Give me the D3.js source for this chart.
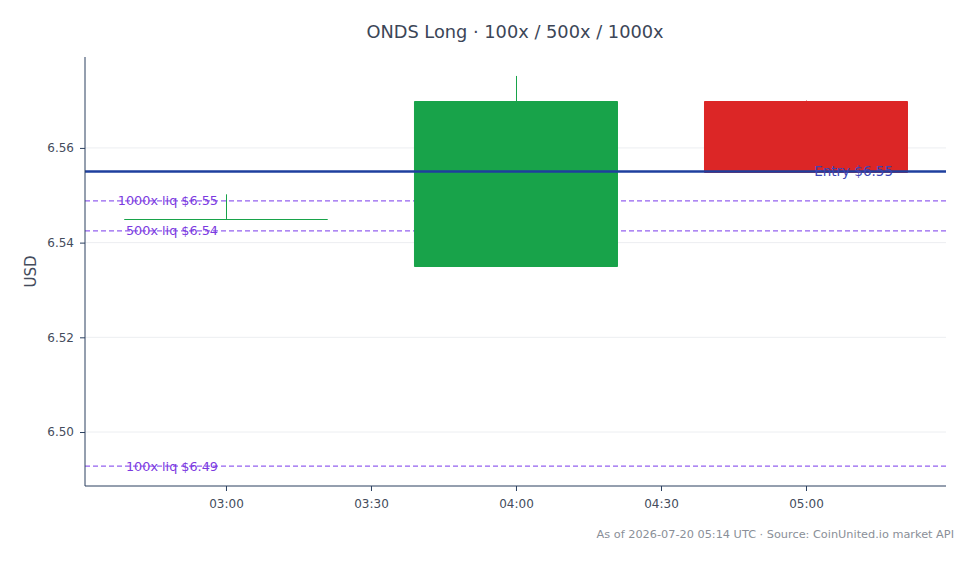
<!DOCTYPE html>
<html>
<head>
  <style>
    body, html { margin: 0; padding: 0; background: #fff; }
    text { font-family: "DejaVu Sans", sans-serif; }
  </style>
</head>
<body>
  <svg id="svg" width="978" height="564"></svg>
  <script src="https://d3js.org/d3.v7.min.js"></script>
  <script>
    // candles (UTC times)
    const times = ["2026-07-20T03:00:00Z", "2026-07-20T04:00:00Z", "2026-07-20T05:00:00Z"]
    const opens = [6.545, 6.535, 6.570]
    const highs = [6.5502, 6.5752, 6.570]
    const lows = [6.545, 6.535, 6.555]
    const closes = [6.545, 6.570, 6.555]

    const entryPrice = 6.555
    const liqLevels = [6.5488, 6.5425, 6.4928]
    const liqLabels = ["1000x liq $6.55", "500x liq $6.54", "100x liq $6.49"]

    const yTicks = [6.50, 6.52, 6.54, 6.56]
    const xTicks = ["2026-07-20T03:00:00Z", "2026-07-20T03:30:00Z", "2026-07-20T04:00:00Z", "2026-07-20T04:30:00Z", "2026-07-20T05:00:00Z"]

    const width = 978
    const height = 564
    const margin = { top: 57, right: 32, bottom: 78, left: 85 }
    const svg = d3.select("#svg")

    const candles = times.map((t, i) => ({
      t: new Date(t), o: opens[i], h: highs[i], l: lows[i], c: closes[i]
    }))

    const xScale = d3.scaleUtc()
      .domain([new Date("2026-07-20T02:30:50Z"), new Date("2026-07-20T05:28:58Z")])
      .range([margin.left, width - margin.right])
    const yScale = d3.scaleLinear()
      .domain([6.4886, 6.5792])
      .range([height - margin.bottom, margin.top])

    const axisColor = "#2a3f5f"
    const textColor = "#444c5c"

    // grid
    svg.append("g").selectAll("line").data(yTicks).join("line")
      .attr("x1", margin.left).attr("x2", width - margin.right)
      .attr("y1", d => yScale(d)).attr("y2", d => yScale(d))
      .attr("stroke", "#eceef1").attr("stroke-width", 1)

    // liquidation lines
    svg.append("g").selectAll("line").data(liqLevels).join("line")
      .attr("x1", margin.left).attr("x2", width - margin.right)
      .attr("y1", d => yScale(d)).attr("y2", d => yScale(d))
      .attr("stroke", "#9461f0").attr("stroke-width", 1.3)
      .attr("stroke-dasharray", "5,3")

    // candles
    const halfW = 0.35 * 60 * 60 * 1000
    const up = "#18a34a"
    const down = "#dc2626"
    const cg = svg.append("g")
    cg.selectAll("line.wick").data(candles).join("line")
      .attr("class", "wick")
      .attr("x1", d => Math.round(xScale(d.t)) + 0.5).attr("x2", d => Math.round(xScale(d.t)) + 0.5)
      .attr("y1", d => yScale(d.h)).attr("y2", d => yScale(d.l))
      .attr("stroke", d => d.c >= d.o ? up : down).attr("stroke-width", 1)
    cg.selectAll("path.body").data(candles).join("path")
      .attr("class", "body")
      .attr("d", d => {
        const x0 = xScale(new Date(+d.t - halfW))
        const x1 = xScale(new Date(+d.t + halfW))
        const y0 = Math.round(yScale(Math.max(d.o, d.c))) + 0.5
        const y1 = Math.round(yScale(Math.min(d.o, d.c))) + 0.5
        return `M${x0},${y0}H${x1}V${y1}H${x0}Z`
      })
      .attr("fill", d => d.c >= d.o ? up : down)
      .attr("stroke", d => d.c >= d.o ? up : down)
      .attr("stroke-width", 1)

    // entry line
    svg.append("line")
      .attr("x1", margin.left).attr("x2", width - margin.right)
      .attr("y1", yScale(entryPrice)).attr("y2", yScale(entryPrice))
      .attr("stroke", "#1e3f9e").attr("stroke-width", 2.5)

    // axes
    const yAxis = d3.axisLeft(yScale).tickValues(yTicks).tickFormat(d3.format(".2f")).tickSize(5).tickPadding(6)
    const gy = svg.append("g").attr("transform", `translate(${margin.left},0)`).call(yAxis)
    gy.select(".domain").remove()
    gy.append("line").attr("x1", 0).attr("x2", 0)
      .attr("y1", margin.top).attr("y2", height - margin.bottom)
      .attr("stroke", axisColor).attr("stroke-width", 1)
    gy.selectAll(".tick line").attr("stroke", axisColor)
    gy.selectAll(".tick text").attr("fill", textColor).attr("font-size", 12)
      .attr("font-family", "DejaVu Sans, sans-serif")

    const xAxis = d3.axisBottom(xScale).tickValues(xTicks.map(d => new Date(d)))
      .tickFormat(d3.utcFormat("%H:%M")).tickSize(5).tickPadding(8)
    const gx = svg.append("g").attr("transform", `translate(0,${height - margin.bottom})`).call(xAxis)
    gx.select(".domain").remove()
    gx.append("line").attr("x1", margin.left).attr("x2", width - margin.right)
      .attr("y1", 0).attr("y2", 0).attr("stroke", axisColor).attr("stroke-width", 1)
    gx.selectAll(".tick line").attr("stroke", axisColor)
    gx.selectAll(".tick text").attr("fill", textColor).attr("font-size", 12)
      .attr("font-family", "DejaVu Sans, sans-serif")

    // liquidation labels
    svg.append("g").selectAll("text").data(liqLevels).join("text")
      .attr("x", xScale(candles[0].t) - 8)
      .attr("y", d => yScale(d))
      .attr("dy", "0.35em")
      .attr("text-anchor", "end")
      .attr("font-size", 12.8)
      .attr("fill", "#7b3ae0")
      .text((d, i) => liqLabels[i])

    // entry label
    svg.append("text")
      .attr("x", width - margin.right - 53)
      .attr("y", yScale(entryPrice))
      .attr("dy", "0.35em")
      .attr("text-anchor", "end")
      .attr("font-size", 13.5)
      .attr("fill", "#3d45b3")
      .text("Entry $" + entryPrice.toFixed(2))

    // title
    svg.append("text")
      .attr("x", 515).attr("y", 38)
      .attr("text-anchor", "middle")
      .attr("font-size", 17.8)
      .attr("fill", "#3c4657")
      .text("ONDS Long · 100x / 500x / 1000x")

    // y label
    svg.append("text")
      .attr("transform", `translate(36,${(margin.top + height - margin.bottom) / 2}) rotate(-90)`)
      .attr("text-anchor", "middle")
      .attr("font-size", 15)
      .attr("fill", textColor)
      .text("USD")

    // footer
    svg.append("text")
      .attr("x", 954).attr("y", 538)
      .attr("text-anchor", "end")
      .attr("font-size", 11.3)
      .attr("fill", "#8a8f98")
      .text("As of 2026-07-20 05:14 UTC · Source: CoinUnited.io market API")
  </script>
</body>
</html>
